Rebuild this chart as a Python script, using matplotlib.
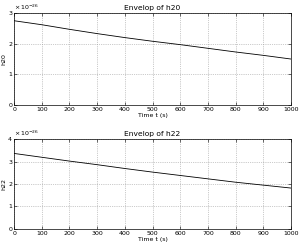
import numpy as np
import matplotlib
matplotlib.use("Agg")
import matplotlib.pyplot as plt

t = [0, 100, 200, 300, 400, 500, 600, 700, 800, 900, 1000]
h20 = [2.75, 2.62, 2.47, 2.33, 2.20, 2.08, 1.97, 1.85, 1.73, 1.62, 1.50]
h22 = [3.36, 3.19, 3.02, 2.86, 2.69, 2.53, 2.38, 2.23, 2.08, 1.95, 1.82]
xticks = list(range(0, 1001, 100))
exponent = -26

plt.rcParams["font.family"] = "DejaVu Sans"
plt.rcParams["font.size"] = 4.5

fig = plt.figure(figsize=(3.0, 2.47), dpi=100)
panels = [
    ([0.047, 0.575, 0.923, 0.372], h20, "h20", [0, 1, 2, 3]),
    ([0.047, 0.073, 0.923, 0.364], h22, "h22", [0, 1, 2, 3, 4]),
]
for rect, vals, name, yt in panels:
    ax = fig.add_axes(rect)
    ax.plot(t, vals, color="black", linewidth=0.6)
    ax.set_xlim(0, 1000)
    ax.set_ylim(yt[0], yt[-1])
    ax.set_xticks(xticks)
    ax.set_yticks(yt)
    ax.grid(True, linestyle=":", color="#999999", linewidth=0.5)
    ax.tick_params(direction="in", length=2, width=0.4, pad=1.5, top=True, right=True)
    for s in ax.spines.values():
        s.set_linewidth(0.5)
    ax.set_title("Envelop of " + name, pad=2)
    ax.set_xlabel("Time t (s)", labelpad=1)
    ax.set_ylabel(name, labelpad=1)
    ax.text(0, 1.01, r"$\times\,10^{%d}$" % exponent, transform=ax.transAxes,
            ha="left", va="bottom", fontsize=4.5)

fig.savefig("out.png", dpi=100)
